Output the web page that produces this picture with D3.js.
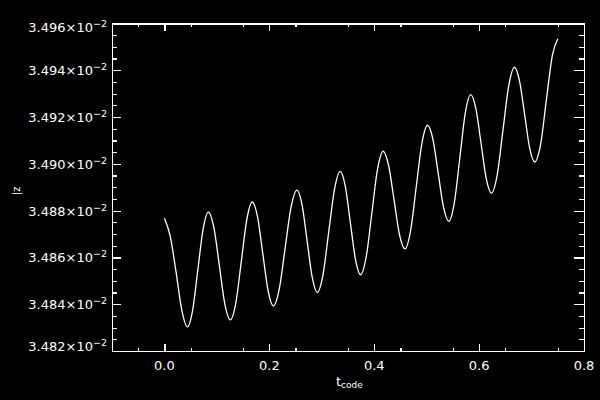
<!DOCTYPE html>
<html><head><meta charset="utf-8">
<script src="https://cdn.jsdelivr.net/npm/d3@7"></script>
<style>html,body{margin:0;background:#000;} svg{display:block;background:#000}</style>
</head><body><svg id="c" width="600" height="400"></svg>
<script>
// time (code units)
const tVals = [0.000, 0.0109, 0.022, 0.033, 0.0438,
  0.0538, 0.0638, 0.0738, 0.0838,
  0.0943, 0.1048, 0.1152, 0.1257,
  0.1362, 0.1467, 0.1571, 0.1676,
  0.1776, 0.1876, 0.1976, 0.2076,
  0.2189, 0.2302, 0.2415, 0.2528,
  0.2625, 0.2721, 0.2818, 0.2914,
  0.3024, 0.3133, 0.3243, 0.3352,
  0.3449, 0.3546, 0.3643, 0.374,
  0.3848, 0.3955, 0.4063, 0.417,
  0.4274, 0.4378, 0.4481, 0.4585,
  0.4693, 0.4801, 0.4909, 0.5017,
  0.5119, 0.5220, 0.5322, 0.5423,
  0.5527, 0.5632, 0.5736, 0.584,
  0.5939, 0.6038, 0.6137, 0.6236,
  0.6346, 0.6455, 0.6565, 0.6674,
  0.6771, 0.6868, 0.6964, 0.7061,
  0.7174, 0.7286, 0.7398, 0.750];
// |z| in units of 10^-2
const zVals = [3.48768, 3.48692, 3.48540, 3.48376, 3.48303,
  3.48375, 3.48549, 3.48722, 3.48794,
  3.48727, 3.48564, 3.48400, 3.48333,
  3.48407, 3.48585, 3.48763, 3.48837,
  3.48772, 3.48615, 3.48458, 3.48393,
  3.48465, 3.48641, 3.48816, 3.48888,
  3.48824, 3.48670, 3.48515, 3.48451,
  3.48527, 3.48710, 3.48892, 3.48968,
  3.48904, 3.48747, 3.48591, 3.48526,
  3.48603, 3.48790, 3.48977, 3.49054,
  3.48993, 3.48846, 3.48698, 3.48637,
  3.48714, 3.48901, 3.49088, 3.49165,
  3.49105, 3.48960, 3.48814, 3.48754,
  3.48833, 3.49025, 3.49217, 3.49296,
  3.49235, 3.49086, 3.48936, 3.48875,
  3.48954, 3.49144, 3.49334, 3.49413,
  3.49354, 3.49211, 3.49067, 3.49008,
  3.49085, 3.49280, 3.49465, 3.49535];

const xTicks = [0.0, 0.2, 0.4, 0.6, 0.8];
const xTickLabels = ["0.0", "0.2", "0.4", "0.6", "0.8"];
const yTicks = [3.482, 3.484, 3.486, 3.488, 3.490, 3.492, 3.494, 3.496];
const yTickLabels = ["3.482", "3.484", "3.486", "3.488", "3.490", "3.492", "3.494", "3.496"];
const yExponent = "\u22122";
const xTitle = "t";
const xTitleSub = "code";
const yTitle = "|z";

const L = 112, R = 584, T = 23.5, B = 351;
const x = d3.scaleLinear().domain([-0.1, 0.8]).range([L, R]);
const y = d3.scaleLinear().domain([3.482, 3.496]).range([B, T]);

const svg = d3.select("#c");
const white = "#fff";

const xMinor = d3.range(-0.05, 0.8, 0.1).map(v => +v.toFixed(3));
const yMinor = d3.range(3.482, 3.4961, 0.0005).map(v => +v.toFixed(4)).filter(v => !yTicks.some(t => Math.abs(t - v) < 1e-6));

function styleAxis(g) {
  g.selectAll("path.domain").attr("stroke", white).attr("stroke-width", 1.2);
  g.selectAll(".tick line").attr("stroke", white).attr("stroke-width", 1.2);
  g.selectAll(".tick text").remove();
  g.attr("shape-rendering", "crispEdges");
}

svg.append("g").attr("transform", `translate(0,${B})`)
  .call(d3.axisBottom(x).tickValues(xTicks).tickSizeInner(-7).tickSizeOuter(0).tickFormat("")).call(styleAxis);
svg.append("g").attr("transform", `translate(0,${B})`)
  .call(d3.axisBottom(x).tickValues(xMinor).tickSizeInner(-3.5).tickSizeOuter(0).tickFormat("")).call(styleAxis);
svg.append("g").attr("transform", `translate(0,${T})`)
  .call(d3.axisTop(x).tickValues(xTicks).tickSizeInner(-7).tickSizeOuter(0).tickFormat("")).call(styleAxis);
svg.append("g").attr("transform", `translate(0,${T})`)
  .call(d3.axisTop(x).tickValues(xMinor).tickSizeInner(-3.5).tickSizeOuter(0).tickFormat("")).call(styleAxis);
svg.append("g").attr("transform", `translate(${L},0)`)
  .call(d3.axisLeft(y).tickValues(yTicks).tickSizeInner(-9).tickSizeOuter(0).tickFormat("")).call(styleAxis);
svg.append("g").attr("transform", `translate(${L},0)`)
  .call(d3.axisLeft(y).tickValues(yMinor).tickSizeInner(-5).tickSizeOuter(0).tickFormat("")).call(styleAxis);
svg.append("g").attr("transform", `translate(${R},0)`)
  .call(d3.axisRight(y).tickValues(yTicks).tickSizeInner(-10).tickSizeOuter(0).tickFormat("")).call(styleAxis);
svg.append("g").attr("transform", `translate(${R},0)`)
  .call(d3.axisRight(y).tickValues(yMinor).tickSizeInner(-5).tickSizeOuter(0).tickFormat("")).call(styleAxis);

const font = "'DejaVu Sans', sans-serif";

// x tick labels
svg.append("g").selectAll("text").data(xTicks).join("text")
  .attr("x", d => x(d)).attr("y", 370)
  .attr("text-anchor", "middle").attr("fill", white)
  .attr("font-family", font).attr("font-size", 13)
  .text((d, i) => xTickLabels[i]);

// y tick labels
const yl = svg.append("g").selectAll("text").data(yTicks).join("text")
  .attr("x", 107)
  .attr("y", (d, i) => {
    const p = y(d);
    if (i === 0) return p - 0.5;
    if (i === yTicks.length - 1) return p + 8;
    return p + 5;
  })
  .attr("text-anchor", "end").attr("fill", white)
  .attr("font-family", font).attr("font-size", 13);
yl.append("tspan").text((d, i) => yTickLabels[i] + "\u00d710");
yl.append("tspan").attr("dy", -5).attr("font-size", 9.5).text(yExponent);

// x title
const xt = svg.append("text").attr("x", 336).attr("y", 386)
  .attr("fill", white).attr("font-family", font).attr("font-size", 13);
xt.append("tspan").text(xTitle);
xt.append("tspan").attr("dy", 2).attr("font-size", 9).text(xTitleSub);

// y title
svg.append("text").attr("transform", "translate(20,195) rotate(-90)")
  .attr("fill", white).attr("font-family", font).attr("font-size", 10)
  .text(yTitle);

// data line
const pts = tVals.map((t, i) => [t, zVals[i]]);
svg.append("path").datum(pts)
  .attr("fill", "none").attr("stroke", white).attr("stroke-width", 1.3)
  .attr("d", d3.line().x(d => x(d[0])).y(d => y(d[1])).curve(d3.curveMonotoneX));
</script>
</body></html>
